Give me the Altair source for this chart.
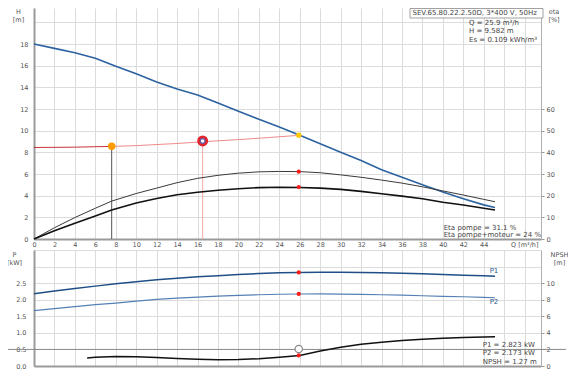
import altair as alt
import pandas as pd

# ---------------- data ----------------
# top panel: head curve
q_head = [0, 2, 4, 6, 8, 10, 12, 14, 16, 18, 20, 22, 24, 26, 28, 30, 32, 34, 36, 38, 40, 42, 44, 45.1]
head = [18.0, 17.6, 17.2, 16.7, 15.95, 15.25, 14.5, 13.85, 13.3, 12.55, 11.8, 11.05, 10.35, 9.58,
        8.8, 8.0, 7.25, 6.4, 5.7, 5.0, 4.35, 3.72, 3.15, 2.9]

# efficiencies [%]
q_eta = [0, 2, 4, 6, 7.6, 10, 12, 14, 16, 18, 20, 22, 24, 26, 28, 30, 32, 34, 36, 38, 40, 42, 44, 45.1]
eta_pump = [0, 5.2, 9.9, 14.2, 17.5, 21.0, 23.5, 26.0, 28.0, 29.4, 30.4, 31.0, 31.2, 31.1,
            30.6, 29.6, 28.5, 27.2, 25.8, 24.1, 22.2, 20.3, 18.3, 17.2]
eta_total = [0, 3.8, 7.3, 10.6, 13.4, 16.6, 18.7, 20.4, 21.6, 22.5, 23.2, 23.7, 23.9, 23.8,
             23.5, 22.9, 22.0, 20.9, 19.8, 18.6, 17.0, 15.7, 14.2, 13.4]

# system curve (left dark part / right light part)
q_sys_a = [0, 4, 7.6]
h_sys_a = [8.45, 8.48, 8.55]
q_sys_b = [7.6, 10, 14, 16.5, 20, 23, 26]
h_sys_b = [8.55, 8.62, 8.82, 8.98, 9.18, 9.37, 9.58]

# markers
q_orange, h_orange = 7.6, 8.57
q_ring, h_ring = 16.5, 9.05
q_duty, h_duty = 25.9, 9.582
eta_pump_duty, eta_total_duty = 31.1, 24.0

# bottom panel: power [kW]
q_pow = [0, 2, 4, 6, 8, 10, 12, 14, 16, 18, 20, 22, 24, 26, 28, 30, 32, 34, 36, 38, 40, 42, 44, 45.1]
p1 = [2.18, 2.26, 2.34, 2.41, 2.48, 2.54, 2.60, 2.65, 2.69, 2.72, 2.76, 2.79, 2.81, 2.823,
      2.83, 2.83, 2.82, 2.81, 2.80, 2.78, 2.76, 2.74, 2.72, 2.71]
p2 = [1.67, 1.73, 1.79, 1.85, 1.90, 1.96, 2.01, 2.05, 2.08, 2.11, 2.13, 2.15, 2.165, 2.173,
      2.175, 2.17, 2.16, 2.15, 2.14, 2.12, 2.10, 2.09, 2.07, 2.06]
p1_duty, p2_duty = 2.823, 2.173

# NPSH [m]
q_npsh = [5.2, 6, 8, 10, 12, 14, 16, 18, 20, 22, 24, 26, 28, 30, 32, 34, 36, 38, 40, 42, 44, 45.1]
npsh = [0.97, 1.05, 1.15, 1.13, 1.03, 0.92, 0.82, 0.76, 0.78, 0.88, 1.05, 1.27, 1.8, 2.25,
        2.63, 2.88, 3.07, 3.24, 3.36, 3.44, 3.5, 3.53]
npsh_duty = 1.27
npsh_marker = 2.05
npsh_ref_line = 2.0

# texts
header_text = "SEV.65.80.22.2.50D, 3*400 V, 50Hz"
info_top = ["Q = 25.9 m³/h", "H = 9.582 m", "Es = 0.109 kWh/m³"]
info_eta = ["Eta pompe = 31.1 %", "Eta pompe+moteur = 24 %"]
info_bot = ["P1 = 2.823 kW", "P2 = 2.173 kW", "NPSH = 1.27 m"]

# ---------------- styling ----------------
W = 507
HT = 231
HB = 116
FONT = "DejaVu Sans"
GRID = "#dcdcdc"
LAB = "#555555"
AX = "#9a9a9a"
FS = 6.5

x_ticks = list(range(0, 50, 2))
xscale = alt.Scale(domain=[0, 49.6], nice=False, zero=False)

x_top = alt.X("Q:Q", scale=xscale,
              axis=alt.Axis(values=x_ticks, labelExpr="datum.value > 44 ? '' : datum.label",
                            title="Q [m³/h]", titleX=W - 3, titleY=5, titleAlign="right",
                            titleBaseline="middle", titleFontWeight="normal", titleFontSize=FS,
                            titleColor=LAB, ticks=False, labelPadding=2, domainColor=AX,
                            domainWidth=2, gridColor=GRID, labelFontSize=FS, labelColor=LAB,
                            labelFlush=False))

y_h = alt.Y("H:Q", scale=alt.Scale(domain=[0, 21.33], nice=False, zero=False),
            axis=alt.Axis(values=list(range(0, 22, 2)), labelExpr="datum.value > 18 ? '' : datum.label",
                          title=["H", "[m]"], titleAngle=0, titleX=-16, titleY=0, titleAlign="center",
                          titleBaseline="top", titleLineHeight=8.5, titleFontWeight="normal",
                          titleFontSize=FS, titleColor=LAB, ticks=False, labelPadding=6,
                          domainColor=AX, domainWidth=2, gridColor=GRID, labelFontSize=FS,
                          labelColor=LAB))

y_eta = alt.Y("E:Q", scale=alt.Scale(domain=[0, 106.65], nice=False, zero=False),
              axis=alt.Axis(orient="right", values=list(range(0, 70, 10)), grid=False,
                            title=["eta", "[%]"], titleAngle=0, titleX=12.5, titleY=0,
                            titleAlign="center", titleBaseline="top", titleLineHeight=8.5,
                            titleFontWeight="normal", titleFontSize=FS, titleColor=LAB,
                            ticks=True, tickSize=3, tickColor=AX, labelPadding=2,
                            domainColor="#b0b0b0", domainWidth=1, labelFontSize=FS,
                            labelColor=LAB))

df_head = pd.DataFrame({"Q": q_head, "H": head})
df_eta_p = pd.DataFrame({"Q": q_eta, "E": eta_pump})
df_eta_t = pd.DataFrame({"Q": q_eta, "E": eta_total})
df_sys_a = pd.DataFrame({"Q": q_sys_a, "H": h_sys_a})
df_sys_b = pd.DataFrame({"Q": q_sys_b, "H": h_sys_b})

head_line = alt.Chart(df_head).mark_line(color="#2c62a0", strokeWidth=1.6).encode(x=x_top, y=y_h)
sys_a = alt.Chart(df_sys_a).mark_line(color="#c8343a", strokeWidth=1).encode(x=x_top, y=y_h)
sys_b = alt.Chart(df_sys_b).mark_line(color="#f08a8a", strokeWidth=1).encode(x=x_top, y=y_h)

df_vr1 = pd.DataFrame({"Q": [q_orange], "H": [h_orange], "H0": [0]})
df_vr2 = pd.DataFrame({"Q": [q_ring], "H": [h_ring], "H0": [0]})
vrule1 = alt.Chart(df_vr1).mark_rule(color="#555555", strokeWidth=1).encode(x=x_top, y=y_h, y2="H0:Q")
vrule2 = alt.Chart(df_vr2).mark_rule(color="#f4a6a6", strokeWidth=1).encode(x=x_top, y=y_h, y2="H0:Q")

orange_pt = alt.Chart(pd.DataFrame({"Q": [q_orange], "H": [h_orange]})).mark_circle(
    color="#ff9a00", opacity=1, size=55).encode(x=x_top, y=y_h)
df_ring = pd.DataFrame({"Q": [q_ring], "H": [h_ring]})
ring_outer = alt.Chart(df_ring).mark_circle(color="#e3242b", opacity=1, size=120).encode(x=x_top, y=y_h)
ring_inner = alt.Chart(df_ring).mark_point(shape="circle", filled=True, fill="#ffffff", stroke="#6a5aa8",
                                           strokeWidth=1.3, opacity=1, size=22).encode(x=x_top, y=y_h)
duty_pt = alt.Chart(pd.DataFrame({"Q": [q_duty], "H": [h_duty]})).mark_circle(
    color="#ffc800", opacity=1, size=28).encode(x=x_top, y=y_h)

# text annotations (top)
df_hdr = pd.DataFrame({"t": [header_text]})
hdr_box = alt.Chart(df_hdr).mark_rect(fill="white", stroke="#8a8a8a", strokeWidth=0.8).encode(
    x=alt.value(376), x2=alt.value(509), y=alt.value(0.5), y2=alt.value(10))
hdr_txt = alt.Chart(df_hdr).mark_text(align="left", baseline="middle", font=FONT, fontSize=7,
                                      color="#444444").encode(x=alt.value(378.5), y=alt.value(5.4), text="t:N")
info_t = alt.Chart(pd.DataFrame({"t": ["\n".join(info_top)]})).mark_text(
    align="left", baseline="top", font=FONT, fontSize=7, color="#444444", lineBreak="\n",
    lineHeight=8.5).encode(x=alt.value(435), y=alt.value(10.5), text="t:N")
info_e = alt.Chart(pd.DataFrame({"t": ["\n".join(info_eta)]})).mark_text(
    align="left", baseline="top", font=FONT, fontSize=7, color="#444444", lineBreak="\n",
    lineHeight=7.5).encode(x=alt.value(409.7), y=alt.value(215.5), text="t:N")

eta_p_line = alt.Chart(df_eta_p).mark_line(color="#3a3a3a", strokeWidth=1).encode(x=x_top, y=y_eta)
eta_t_line = alt.Chart(df_eta_t).mark_line(color="#111111", strokeWidth=1.6).encode(x=x_top, y=y_eta)
eta_dots = alt.Chart(pd.DataFrame({"Q": [q_duty, q_duty], "E": [eta_pump_duty, eta_total_duty]})).mark_circle(
    color="#ff1a1a", opacity=1, size=18).encode(x=x_top, y=y_eta)

left_top = alt.layer(head_line, sys_a, sys_b, vrule1, vrule2, orange_pt, ring_outer, ring_inner,
                     duty_pt, hdr_box, hdr_txt, info_t, info_e)
right_top = alt.layer(eta_p_line, eta_t_line, eta_dots)
top = alt.layer(left_top, right_top).resolve_scale(y="independent").properties(width=W, height=HT)

# ---------------- bottom panel ----------------
x_bot = alt.X("Q:Q", scale=xscale,
              axis=alt.Axis(values=x_ticks, labels=False, ticks=False, title=None, domainColor=AX,
                            domainWidth=2, gridColor=GRID))
y_p = alt.Y("P:Q", scale=alt.Scale(domain=[0, 3.5], nice=False, zero=False),
            axis=alt.Axis(values=[0, 0.5, 1.0, 1.5, 2.0, 2.5, 3.0, 3.5], format=".1f",
                          labelExpr="datum.value > 2.5 ? '' : datum.label",
                          title=["P", "[kW]"], titleAngle=0, titleX=-20, titleY=1, titleAlign="center",
                          titleBaseline="top", titleLineHeight=8.5, titleFontWeight="normal",
                          titleFontSize=FS, titleColor=LAB, ticks=False, labelPadding=8,
                          domainColor=AX, domainWidth=2, gridColor=GRID, labelFontSize=FS,
                          labelColor=LAB))
y_n = alt.Y("N:Q", scale=alt.Scale(domain=[0, 14], nice=False, zero=False),
            axis=alt.Axis(orient="right", values=[0, 2, 4, 6, 8, 10], grid=False,
                          title=["NPSH", "[m]"], titleAngle=0, titleX=18, titleY=1,
                          titleAlign="center", titleBaseline="top", titleLineHeight=8.5,
                          titleFontWeight="normal", titleFontSize=FS, titleColor=LAB,
                          ticks=True, tickSize=3, tickColor=AX, labelPadding=2,
                          domainColor="#b0b0b0", domainWidth=1, labelFontSize=FS, labelColor=LAB))

df_p1 = pd.DataFrame({"Q": q_pow, "P": p1})
df_p2 = pd.DataFrame({"Q": q_pow, "P": p2})
p1_line = alt.Chart(df_p1).mark_line(color="#1f4f86", strokeWidth=1.5).encode(x=x_bot, y=y_p)
p2_line = alt.Chart(df_p2).mark_line(color="#5580b5", strokeWidth=1.2).encode(x=x_bot, y=y_p)
p_dots = alt.Chart(pd.DataFrame({"Q": [q_duty, q_duty], "P": [p1_duty, p2_duty]})).mark_circle(
    color="#ff1a1a", opacity=1, size=18).encode(x=x_bot, y=y_p)
p_labels = alt.Chart(pd.DataFrame({"Q": [45.0, 45.0], "P": [2.87, 1.94], "t": ["P1", "P2"]})).mark_text(
    font=FONT, fontSize=7, color="#2c5a90").encode(x=x_bot, y=y_p, text="t:N")
info_b = alt.Chart(pd.DataFrame({"t": ["\n".join(info_bot)]})).mark_text(
    align="left", baseline="top", font=FONT, fontSize=7, color="#444444", lineBreak="\n",
    lineHeight=8.3).encode(x=alt.value(448.7), y=alt.value(91), text="t:N")

df_n = pd.DataFrame({"Q": q_npsh, "N": npsh})
ref_line = alt.Chart(pd.DataFrame({"N": [npsh_ref_line]})).mark_rule(color="#8a8a8a", strokeWidth=1).encode(
    y=y_n, x=alt.value(-29), x2=alt.value(W + 25))
n_line = alt.Chart(df_n).mark_line(color="#111111", strokeWidth=1.5).encode(x=x_bot, y=y_n)
n_dot = alt.Chart(pd.DataFrame({"Q": [q_duty], "N": [npsh_duty]})).mark_circle(
    color="#ff1a1a", opacity=1, size=18).encode(x=x_bot, y=y_n)
n_marker = alt.Chart(pd.DataFrame({"Q": [q_duty], "N": [npsh_marker]})).mark_point(
    shape="circle", filled=True, fill="white", stroke="#8a8a8a", strokeWidth=1.2, opacity=1,
    size=55).encode(x=x_bot, y=y_n)

left_bot = alt.layer(p1_line, p2_line, p_dots, p_labels, info_b)
right_bot = alt.layer(ref_line, n_line, n_dot, n_marker)
bottom = alt.layer(left_bot, right_bot).resolve_scale(y="independent").properties(width=W, height=HB)

chart = alt.vconcat(top, bottom, spacing=11, bounds="flush").configure_view(stroke=None).configure_axis(
    labelFont=FONT, titleFont=FONT).properties(padding={"left": -4, "top": 0, "right": 0, "bottom": 0})

chart.save("out.html", embed_options={"renderer": "svg", "actions": False})
